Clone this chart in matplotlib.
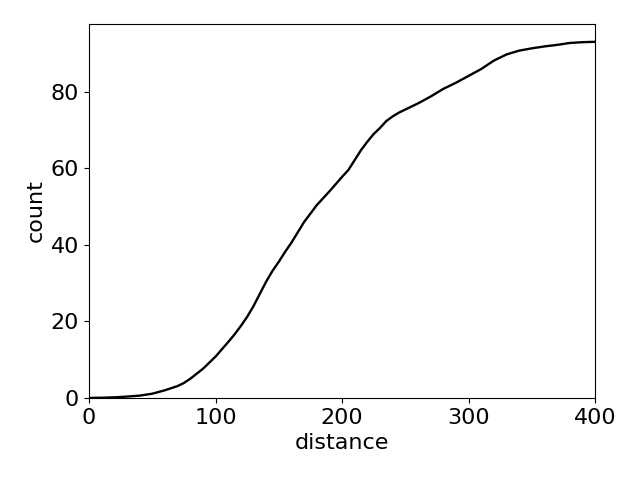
import matplotlib
matplotlib.use('Agg')
import matplotlib.pyplot as plt
import numpy as np

distance = [0, 10, 20, 30, 40, 50, 60, 70, 75, 80, 90, 100, 110, 115, 120, 125, 130, 135,
            140, 145, 150, 155, 160, 170, 180, 190, 200, 205, 210, 215, 220, 225, 230,
            235, 240, 245, 250, 260, 270, 280, 290, 300, 310, 320, 330, 340, 350,
            360, 370, 380, 390, 400]
count = [0, 0.05, 0.15, 0.35, 0.6, 1.1, 2.0, 3.1, 3.9, 5.0, 7.6, 10.8, 14.6, 16.6, 18.8,
         21.2, 24.0, 27.2, 30.4, 33.2, 35.6, 38.2, 40.6, 46.0, 50.4, 54.0, 57.8, 59.6,
         62.2, 64.8, 67.0, 69.0, 70.6, 72.4, 73.6, 74.6, 75.4, 77.0, 78.8, 80.8, 82.4,
         84.2, 86.0, 88.2, 89.8, 90.8, 91.4, 91.9, 92.3, 92.8, 93.0, 93.1]


def cumulativePlot():
    plt.rcParams['font.size'] = 16
    fig, ax = plt.subplots(figsize=(6.4, 4.8), dpi=100)
    fig.subplots_adjust(left=0.139, right=0.93, top=0.95, bottom=0.171)
    ax.plot(distance, count, color='black', linewidth=1.7)
    ax.set_xlim(0, 400)
    ax.set_ylim(bottom=0)
    ax.set_xlabel('distance')
    ax.set_ylabel('count')
    fig.savefig('out.png')


def main():
    cumulativePlot()


if __name__ == "__main__":
    main()
